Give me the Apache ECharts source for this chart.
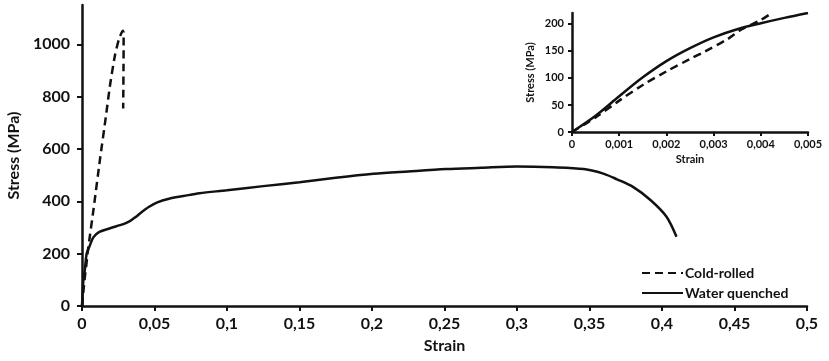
<!DOCTYPE html>
<html>
<head>
<meta charset="utf-8">
<script src="https://cdn.jsdelivr.net/npm/echarts@6/dist/echarts.min.js"></script>
<style>
  html, body { margin: 0; padding: 0; background: #fff; }
</style>
</head>
<body>
<div id="chart" style="width:829px;height:361px;"></div>
<script>
// main plot: cold-rolled (dashed)
const coldStrain = [0, 0.001, 0.002, 0.003, 0.0036, 0.0043, 0.008, 0.0124, 0.0165, 0.0195, 0.0228, 0.0255, 0.0272, 0.0281, 0.0287, 0.0287, 0.0286, 0.0285, 0.0284]
const coldStress = [0, 58, 112, 157, 190, 221, 372, 560, 725, 850, 960, 1020, 1043, 1052, 1045, 980, 900, 820, 755]
// main plot: water quenched (solid)
const wqStrain = [0, 0.0009, 0.002, 0.0032, 0.005, 0.0078, 0.012, 0.0193, 0.025, 0.029, 0.033, 0.037, 0.041, 0.046, 0.0515, 0.06, 0.07, 0.081, 0.1, 0.125, 0.15, 0.175, 0.201, 0.225, 0.251, 0.275, 0.3, 0.325, 0.346, 0.36, 0.369, 0.38, 0.392, 0.403, 0.41]
const wqStress = [0, 95, 140, 200, 225, 262, 283, 297, 307, 314, 324, 340, 358, 378, 395, 410, 420, 431, 442, 458, 473, 490, 505, 514, 523, 528, 533, 530, 523, 505, 484, 455, 405, 342, 265]
// inset: first 0.005 of strain
const insetColdStrain = [0, 0.0005, 0.001, 0.0015, 0.002, 0.0025, 0.0028, 0.0033, 0.0036, 0.004, 0.00425]
const insetColdStress = [0, 27, 58, 87, 112, 135, 148, 172, 190, 207, 221]
const insetWqStrain = [0, 0.0005, 0.001, 0.0015, 0.002, 0.0025, 0.003, 0.0035, 0.004, 0.0045, 0.005]
const insetWqStress = [0, 30, 66, 101, 131, 155, 175, 190, 201, 211, 220]
// tick labels
const mainYTicks = [0, 200, 400, 600, 800, 1000]
const insetYTicks = [0, 50, 100, 150, 200]

const pairs = (xs, ys) => xs.map((x, i) => [x, ys[i]])
const comma = (v) => String(Math.round(v * 10000) / 10000).replace('.', ',')
const plain = (v) => String(v)
const font = 'Lato'
const ink = '#111'

const axisCommon = {
  axisLine: { lineStyle: { color: ink, width: 2.5 } },
  axisTick: { lineStyle: { color: ink, width: 2 }, length: 5 },
  splitLine: { show: false },
}

const option = {
  animation: false,
  backgroundColor: '#fff',
  textStyle: { fontFamily: font },
  grid: [
    { left: 82, right: 22, top: 5, bottom: 55, outerBoundsMode: 'none' },
    { left: 572, right: 21, top: 13, bottom: 229, outerBoundsMode: 'none' },
  ],
  legend: {
    orient: 'vertical',
    left: 636,
    top: 261,
    itemWidth: 41,
    itemHeight: 12,
    itemGap: 6,
    itemStyle: { opacity: 0 },
    data: ['Cold-rolled', 'Water quenched'],
    textStyle: { fontFamily: font, fontWeight: 'bold', fontSize: 14, color: ink, padding: [0, 0, 0, -3] },
  },
  xAxis: [
    {
      ...axisCommon,
      gridIndex: 0,
      type: 'value',
      min: 0,
      max: 0.5,
      interval: 0.05,
      name: 'Strain',
      nameLocation: 'middle',
      nameGap: 32,
      nameTextStyle: { fontFamily: font, fontWeight: 'bold', fontSize: 16, color: ink },
      axisLabel: { fontFamily: font, fontWeight: 'bold', fontSize: 16, color: ink, margin: 10, formatter: comma },
    },
    {
      ...axisCommon,
      gridIndex: 1,
      type: 'value',
      min: 0,
      max: 0.005,
      interval: 0.001,
      name: 'Strain',
      nameLocation: 'middle',
      nameGap: 22,
      nameTextStyle: { fontFamily: font, fontWeight: 'bold', fontSize: 11, color: ink },
      axisTick: { lineStyle: { color: ink, width: 2 }, length: 4 },
      axisLabel: { fontFamily: font, fontWeight: 'bold', fontSize: 11, color: ink, margin: 7, formatter: comma },
    },
  ],
  yAxis: [
    {
      ...axisCommon,
      gridIndex: 0,
      type: 'value',
      min: 0,
      max: 1150,
      interval: 200,
      name: 'Stress (MPa)',
      nameLocation: 'middle',
      nameGap: 58,
      nameTextStyle: { fontFamily: font, fontWeight: 'bold', fontSize: 16, color: ink },
      axisTick: { lineStyle: { color: ink, width: 2 }, length: 5, customValues: mainYTicks },
      axisLabel: { fontFamily: font, fontWeight: 'bold', fontSize: 16, color: ink, margin: 12, customValues: mainYTicks, formatter: plain },
    },
    {
      ...axisCommon,
      gridIndex: 1,
      type: 'value',
      min: 0,
      max: 220,
      interval: 50,
      name: 'Stress (MPa)',
      nameLocation: 'middle',
      nameGap: 36,
      nameTextStyle: { fontFamily: font, fontWeight: 'bold', fontSize: 11, color: ink },
      axisTick: { lineStyle: { color: ink, width: 2 }, length: 4, customValues: insetYTicks },
      axisLabel: { fontFamily: font, fontWeight: 'bold', fontSize: 11, color: ink, margin: 8, customValues: insetYTicks, formatter: plain },
    },
  ],
  series: [
    {
      name: 'Cold-rolled',
      type: 'line',
      xAxisIndex: 0,
      yAxisIndex: 0,
      symbol: 'none',
      smooth: 0.2,
      data: pairs(coldStrain, coldStress),
      lineStyle: { color: ink, width: 2.5, type: [8, 5] },
      itemStyle: { color: ink },
    },
    {
      name: 'Water quenched',
      type: 'line',
      xAxisIndex: 0,
      yAxisIndex: 0,
      symbol: 'none',
      smooth: 0.3,
      data: pairs(wqStrain, wqStress),
      lineStyle: { color: ink, width: 2.5 },
      itemStyle: { color: ink },
    },
    {
      name: 'Cold-rolled',
      type: 'line',
      xAxisIndex: 1,
      yAxisIndex: 1,
      symbol: 'none',
      smooth: 0.3,
      data: pairs(insetColdStrain, insetColdStress),
      lineStyle: { color: ink, width: 2.5, type: [8, 5] },
      itemStyle: { color: ink },
    },
    {
      name: 'Water quenched',
      type: 'line',
      xAxisIndex: 1,
      yAxisIndex: 1,
      symbol: 'none',
      smooth: 0.3,
      data: pairs(insetWqStrain, insetWqStress),
      lineStyle: { color: ink, width: 2.5 },
      itemStyle: { color: ink },
    },
  ],
}

const myChart = echarts.init(document.getElementById('chart'))
myChart.setOption(option)
</script>
</body>
</html>
